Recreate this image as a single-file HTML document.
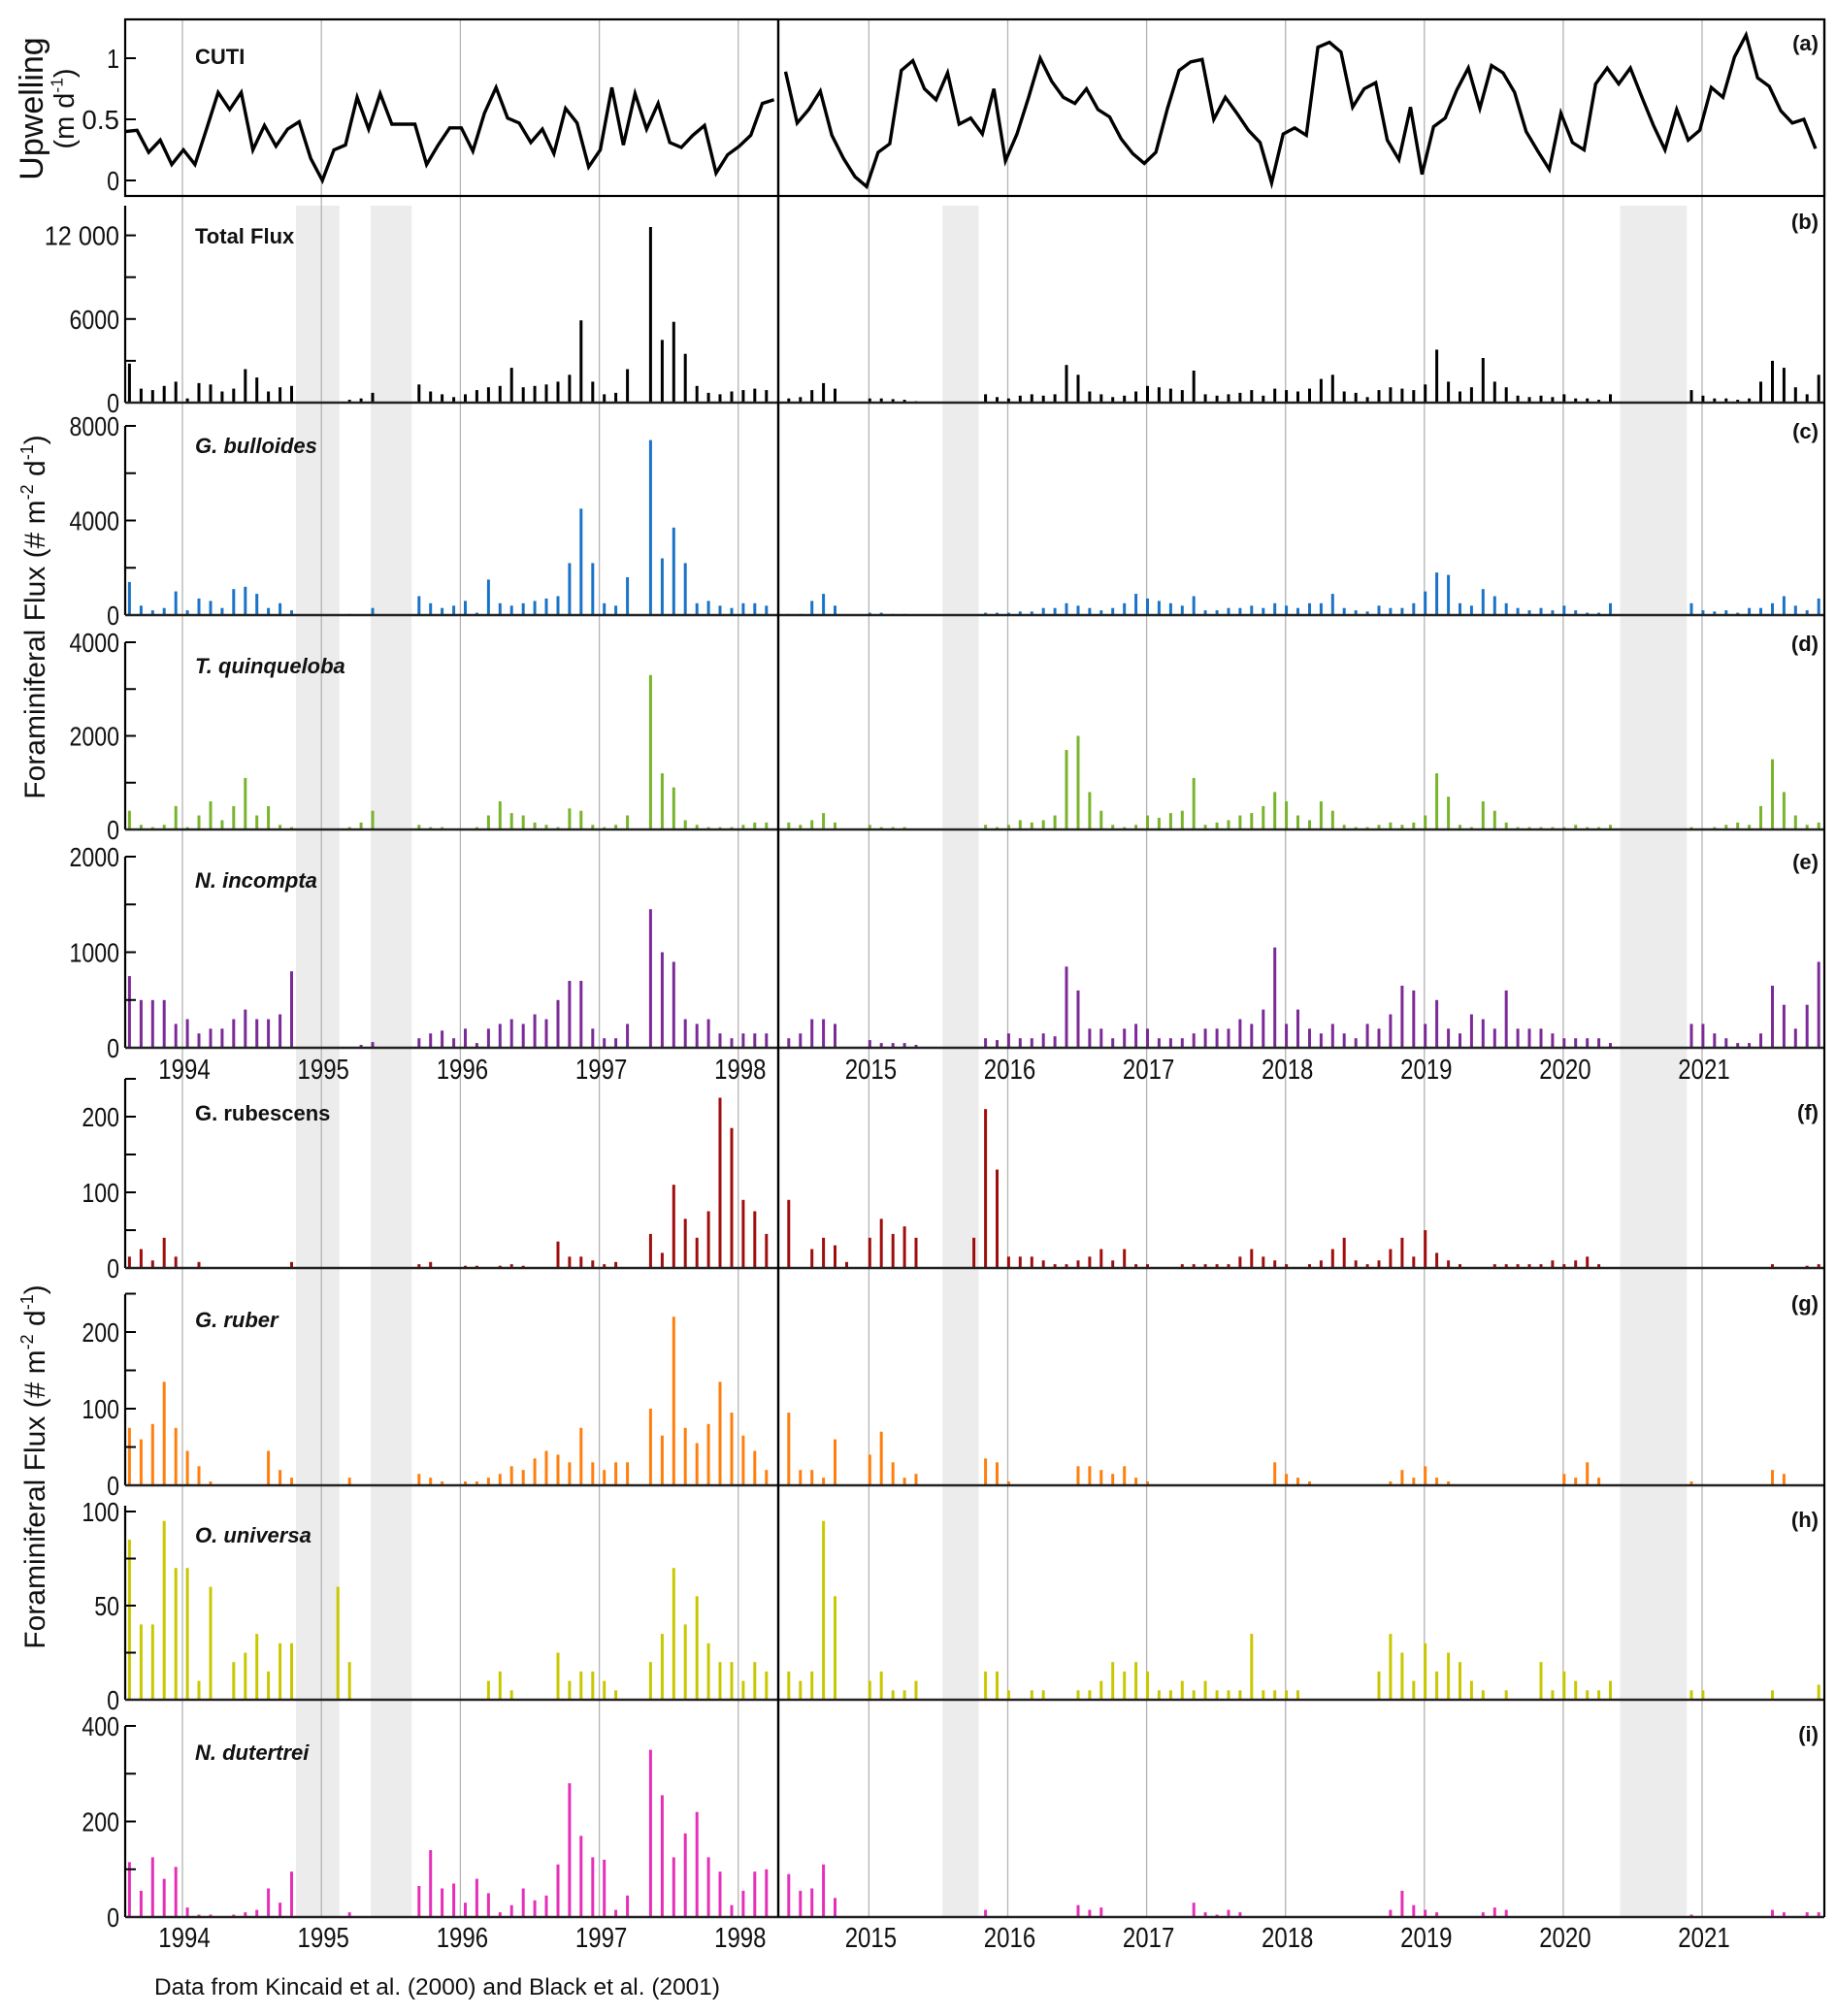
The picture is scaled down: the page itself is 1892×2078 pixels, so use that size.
<!DOCTYPE html>
<html><head><meta charset="utf-8">
<style>
html,body{margin:0;padding:0;background:#fff;}
svg{display:block;}
text{font-family:"Liberation Sans",Arial,sans-serif;}
</style></head>
<body>
<svg id="chart" width="1892" height="2078" viewBox="0 0 1892 2078" xmlns="http://www.w3.org/2000/svg"></svg>
<script>
// ---------- DATA ----------
const leftStart = 1993.619, rightStart = 2014.423, step = 1/12;
const leftYears = [1994,1995,1996,1997,1998];
const rightYears = [2015,2016,2017,2018,2019,2020,2021];
const gaps = [[1994.817,1995.13],[1995.355,1995.65],[2015.53,2015.79],[2020.41,2020.89]];
const cutiLeftStart = 1993.59, cutiRightStart = 2014.40;
const cutiLeft = [0.40,0.41,0.23,0.33,0.13,0.25,0.13,0.42,0.72,0.58,0.72,0.25,0.45,0.28,0.42,0.48,0.18,0.00,0.25,0.29,0.68,0.42,0.71,0.46,0.46,0.46,0.13,0.29,0.43,0.43,0.24,0.55,0.76,0.51,0.47,0.31,0.42,0.22,0.59,0.47,0.11,0.25,0.76,0.29,0.71,0.42,0.63,0.31,0.27,0.37,0.45,0.06,0.21,0.28,0.37,0.63,0.66];
const cutiRight = [0.89,0.47,0.58,0.73,0.37,0.18,0.03,-0.05,0.23,0.30,0.90,0.98,0.75,0.66,0.88,0.46,0.51,0.38,0.75,0.16,0.38,0.68,1.00,0.81,0.68,0.63,0.75,0.58,0.52,0.34,0.22,0.14,0.23,0.59,0.90,0.97,0.99,0.50,0.68,0.55,0.41,0.31,-0.02,0.38,0.43,0.37,1.09,1.13,1.05,0.60,0.75,0.80,0.33,0.17,0.60,0.05,0.44,0.51,0.74,0.92,0.59,0.94,0.88,0.72,0.40,0.24,0.09,0.55,0.31,0.25,0.79,0.92,0.79,0.92,0.68,0.45,0.25,0.58,0.33,0.41,0.76,0.68,1.01,1.19,0.84,0.77,0.57,0.47,0.50,0.26];

const totalLeft = [2800,1000,900,1200,1500,300,1400,1300,800,1000,2400,1800,800,1100,1200,0,0,0,0,200,300,700,0,0,0,1300,800,600,400,600,900,1100,1200,2500,1100,1200,1300,1500,2000,5900,1500,600,700,2400,0,12600,4500,5800,3500,1200,700,600,800,900,1000,900];
const totalRight = [300,400,900,1400,1000,0,0,300,300,250,200,100,0,0,0,0,0,600,400,300,500,600,500,600,2700,2000,800,600,400,500,800,1200,1100,1000,900,2300,600,500,600,700,900,500,1000,900,800,1000,1700,2000,800,700,400,900,1100,1000,900,1300,3800,1500,800,1100,3200,1500,1100,500,400,500,400,600,300,300,200,600,0,0,0,0,0,0,900,500,300,300,200,300,1500,3000,2500,1100,600,2000];
const bullLeft = [1400,400,200,300,1000,200,700,600,300,1100,1200,900,300,500,200,0,0,0,0,50,0,300,0,0,0,800,500,300,400,600,100,1500,500,400,500,600,700,800,2200,4500,2200,500,400,1600,0,7400,2400,3700,2200,500,600,400,300,500,500,400];
const bullRight = [50,50,600,900,400,0,0,100,100,50,50,0,0,0,0,0,0,100,100,100,150,150,300,300,500,400,300,200,300,500,900,700,600,500,400,800,200,200,300,300,400,300,500,400,300,500,500,900,300,200,150,400,300,300,500,1000,1800,1700,500,400,1100,800,500,300,200,300,200,400,200,100,100,500,0,0,0,0,0,0,500,200,150,200,100,300,300,500,800,400,200,700];
const quinLeft = [400,100,50,100,500,50,300,600,200,500,1100,300,500,100,50,0,0,0,0,50,150,400,0,0,0,100,50,50,0,0,50,300,600,350,300,150,100,50,450,400,100,50,100,300,0,3300,1200,900,200,100,50,50,50,100,150,150];
const quinRight = [150,100,200,350,150,0,0,100,50,50,50,0,0,0,0,0,0,100,50,100,200,150,200,300,1700,2000,800,400,100,50,100,300,250,350,400,1100,100,150,200,300,350,500,800,600,300,200,600,400,100,50,50,100,150,100,150,300,1200,700,100,50,600,400,150,50,50,50,50,50,100,50,50,100,0,0,0,0,0,0,50,0,50,100,150,100,500,1500,800,300,100,150];
const incLeft = [750,500,500,500,250,300,150,200,200,300,400,300,300,350,800,0,0,0,0,0,30,60,0,0,0,100,150,180,100,200,50,200,250,300,250,350,300,500,700,700,200,100,100,250,0,1450,1000,900,300,250,300,150,100,150,150,150];
const incRight = [100,150,300,300,250,0,0,80,50,50,50,30,0,0,0,0,0,100,80,150,100,100,150,120,850,600,200,200,100,200,250,200,100,100,100,150,200,200,200,300,250,400,1050,250,400,200,150,250,150,100,250,200,350,650,600,250,500,200,150,350,300,200,600,200,200,200,150,100,100,100,100,50,0,0,0,0,0,0,250,250,150,100,50,50,150,650,450,200,450,900];
const rubeLeft = [15,25,10,40,15,0,8,0,0,0,0,0,0,0,8,0,0,0,0,0,0,0,0,0,0,5,8,0,0,3,3,0,3,5,3,0,0,35,15,15,10,5,8,0,0,45,20,110,65,40,75,225,185,90,75,45];
const rubeRight = [90,0,25,40,30,8,0,40,65,45,55,40,0,0,0,0,40,210,130,15,15,15,10,5,5,10,15,25,10,25,5,5,0,0,5,5,5,5,5,15,25,15,10,5,0,5,10,25,40,10,5,10,25,40,15,50,20,10,5,0,0,5,5,5,5,5,10,5,10,15,5,0,0,0,0,0,0,0,0,0,0,0,0,0,0,5,0,0,3,5];
const ruberLeft = [75,60,80,135,75,45,25,5,0,0,0,0,45,20,10,0,0,0,0,10,0,0,0,0,0,15,10,5,0,5,5,10,15,25,20,35,45,40,30,75,30,20,30,30,0,100,65,220,75,55,80,135,95,65,45,20];
const ruberRight = [95,20,20,10,60,0,0,40,70,30,10,15,0,0,0,0,0,35,30,5,0,0,0,0,0,25,25,20,15,25,10,5,0,0,0,0,0,0,0,0,0,0,30,15,10,5,0,0,0,0,0,0,5,20,10,25,10,5,0,0,0,0,0,0,0,0,0,15,10,30,10,0,0,0,0,0,0,0,5,0,0,0,0,0,0,20,15,0,0,0];
const univLeft = [85,40,40,95,70,70,10,60,0,20,25,35,15,30,30,0,0,0,60,20,0,0,0,0,0,0,0,0,0,0,0,10,15,5,0,0,0,25,10,15,15,10,5,0,0,20,35,70,40,55,30,20,20,10,20,15];
const univRight = [15,10,15,95,55,0,0,10,15,5,5,10,0,0,0,0,0,15,15,5,0,5,5,0,0,5,5,10,20,15,20,15,5,5,10,5,10,5,5,5,35,5,5,5,5,0,0,0,0,0,0,15,35,25,10,30,15,25,20,10,5,0,5,0,0,20,5,15,10,5,5,10,0,0,0,0,0,0,5,5,0,0,0,0,0,5,0,0,0,8];
const dutLeft = [115,55,125,80,105,20,5,5,0,5,10,15,60,30,95,0,0,0,0,10,0,0,0,0,0,65,140,60,70,30,80,50,10,25,60,35,45,110,280,170,125,120,15,45,0,350,255,125,175,220,125,95,25,55,95,100];
const dutRight = [90,55,60,110,40,0,0,0,0,0,0,0,0,0,0,0,0,15,0,0,0,0,0,0,0,25,15,20,0,0,0,0,0,0,0,30,10,5,15,10,0,0,0,0,0,0,0,0,0,0,0,0,15,55,25,15,10,0,0,0,10,20,15,0,0,0,0,0,0,0,0,0,0,0,0,0,0,0,5,0,0,0,0,0,0,15,10,0,10,10];

// ---------- LAYOUT ----------
const NS = "http://www.w3.org/2000/svg";
const svg = document.getElementById('chart');
const XL = 129, XD = 802, XR = 1880, YTOP = 20, YBOT = 1976;
function xOf(yr){ return yr < 2005 ? 188 + (yr-1994)*143.2 : 895.4 + (yr-2015)*143.1; }
function mk(tag, attrs, parent){
  const e = document.createElementNS(NS, tag);
  for (const k in attrs) e.setAttribute(k, attrs[k]);
  (parent||svg).appendChild(e);
  return e;
}
function narrow(el, str, fs){
  el.textContent = str;
  el.setAttribute('textLength', (str.length*fs*0.46).toFixed(1));
  el.setAttribute('lengthAdjust', 'spacingAndGlyphs');
}

const gShade = mk('g', {});


gaps.forEach(g => {
  const r = mk('rect', {x:xOf(g[0]), y:212, width:xOf(g[1])-xOf(g[0]), height:YBOT-212, fill:'#ececec'}, gShade);
  
  
});
const gGrid = mk('g', {});


leftYears.concat(rightYears).forEach(y => {
  const l = mk('line', {x1:xOf(y), x2:xOf(y), y1:YTOP, y2:YBOT, stroke:'#b4b4b4', 'stroke-width':1.3}, gGrid);
  
  
});

const panels = [
  {id:'b', name:'Total Flux', ital:false, color:'#000', L:totalLeft, R:totalRight, y0:415, vref:12000, yref:242.6, top:212, ticks:[0,3000,6000,9000,12000], labels:{0:'0',6000:'6000',12000:'12 000'}, ly:243, lab:228},
  {id:'c', name:'G. bulloides', ital:true, color:'#1a73c6', L:bullLeft, R:bullRight, y0:634, vref:8000, yref:439, top:439, ticks:[0,2000,4000,6000,8000], labels:{0:'0',4000:'4000',8000:'8000'}, ly:459, lab:444},
  {id:'d', name:'T. quinqueloba', ital:true, color:'#78b42c', L:quinLeft, R:quinRight, y0:855, vref:4000, yref:662, top:662, ticks:[0,1000,2000,3000,4000], labels:{0:'0',2000:'2000',4000:'4000'}, ly:686, lab:663},
  {id:'e', name:'N. incompta', ital:true, color:'#7b2a98', L:incLeft, R:incRight, y0:1080, vref:2000, yref:883, top:883, ticks:[0,500,1000,1500,2000], labels:{0:'0',1000:'1000',2000:'2000'}, ly:907, lab:888},
  {id:'f', name:'G. rubescens', ital:false, color:'#a00d0d', L:rubeLeft, R:rubeRight, y0:1307, vref:200, yref:1151, top:1112, ticks:[0,50,100,150,200,250], labels:{0:'0',100:'100',200:'200'}, ly:1147, lab:1146},
  {id:'g', name:'G. ruber', ital:true, color:'#ff7f0e', L:ruberLeft, R:ruberRight, y0:1531, vref:200, yref:1373, top:1334, ticks:[0,50,100,150,200,250], labels:{0:'0',100:'100',200:'200'}, ly:1360, lab:1343},
  {id:'h', name:'O. universa', ital:true, color:'#c9c800', L:univLeft, R:univRight, y0:1752, vref:100, yref:1558, top:1552, ticks:[0,25,50,75,100], labels:{0:'0',50:'50',100:'100'}, ly:1582, lab:1566},
  {id:'i', name:'N. dutertrei', ital:true, color:'#e62fb8', L:dutLeft, R:dutRight, y0:1976, vref:400, yref:1779, top:1779, ticks:[0,100,200,300,400], labels:{0:'0',200:'200',400:'400'}, ly:1806, lab:1787}
];

function yAxisTicks(g, p, scale){
  p.ticks.forEach(t => {
    const y = scale(t);
    const tk = mk('line', {x1:XL, x2:XL+11, y1:y, y2:y, stroke:'#000', 'stroke-width':2}, g);
    
    
    if (p.labels[t] !== undefined){
      const tx = mk('text', {x:XL-6, y:y+10, 'text-anchor':'end', 'font-size':28, fill:'#111'}, g);
      narrow(tx, p.labels[t], 28);
      
      
    }
  });
}

(function(){
  const g = mk('g', {});
  
  
  const ya = v => 186 - v*126;
  const p = {ticks:[0,0.5,1], labels:{0:'0',0.5:'0.5',1:'1'}};
  yAxisTicks(g, p, ya);
  [[cutiLeft,cutiLeftStart],[cutiRight,cutiRightStart]].forEach(([arr,st],k) => {
    const pts = arr.map((v,i) => xOf(st + i*step).toFixed(1) + ',' + ya(v).toFixed(1)).join(' ');
    const pl = mk('polyline', {points:pts, fill:'none', stroke:'#000', 'stroke-width':3.4, 'stroke-linejoin':'miter'}, g);
    
    
  });
  const fr = mk('rect', {x:XL, y:YTOP, width:XR-XL, height:202-YTOP, fill:'none', stroke:'#000', 'stroke-width':2.2}, g);
  
  
  const t = mk('text', {x:201, y:66, 'font-size':22, 'font-weight':'bold', fill:'#111'}, g);
  t.textContent = 'CUTI';
  
  
  const lb = mk('text', {x:1874, y:52, 'text-anchor':'end', 'font-size':22, 'font-weight':'bold', fill:'#111'}, g);
  lb.textContent = '(a)';
  
  
})();

panels.forEach(p => {
  const g = mk('g', {});
  
  
  const sc = v => p.y0 - v*(p.y0 - p.yref)/p.vref;
  [[p.L,leftStart],[p.R,rightStart]].forEach(([arr,st]) => {
    arr.forEach((v,i) => {
      if (v <= 0) return;
      const x = xOf(st + i*step);
      const b = mk('rect', {x:(x-1.5).toFixed(1), y:sc(v).toFixed(1), width:3, height:(p.y0 - sc(v)).toFixed(1), fill:p.color}, g);
      
      
    });
  });
  const sp = mk('line', {x1:XL, x2:XL, y1:p.top, y2:p.y0, stroke:'#000', 'stroke-width':2.2}, g);
  
  
  yAxisTicks(g, p, sc);
  const bl = mk('line', {x1:XL, x2:XR, y1:p.y0, y2:p.y0, stroke:'#222', 'stroke-width':2.6}, g);
  
  
  const t = mk('text', {x:201, y:p.ly+8, 'font-size':22, 'font-weight':'bold', 'font-style':p.ital?'italic':'normal', fill:'#111'}, g);
  t.textContent = p.name;
  
  
  const lb = mk('text', {x:1874, y:p.lab+8, 'text-anchor':'end', 'font-size':22, 'font-weight':'bold', fill:'#111'}, g);
  lb.textContent = '(' + p.id + ')';
  
  
});

const dv = mk('line', {x1:XD, x2:XD, y1:YTOP, y2:YBOT, stroke:'#000', 'stroke-width':2.4});


const rb = mk('line', {x1:XR, x2:XR, y1:YTOP, y2:YBOT, stroke:'#000', 'stroke-width':2.2});



[1112, 2007].forEach((yy,k) => {
  const g = mk('g', {});
  
  
  leftYears.concat(rightYears).forEach(y => {
    const t = mk('text', {x:xOf(y)+2, y:yy, 'text-anchor':'middle', 'font-size':29, fill:'#111'}, g);
    narrow(t, String(y), 29);
    
    
  });
});

function vtitle(x, y, fs, name, parts){
  const t = mk('text', {x:0, y:0, 'font-size':fs, 'text-anchor':'middle', fill:'#111', transform:`translate(${x},${y}) rotate(-90)`});
  parts.forEach(pt => {
    const s = mk('tspan', pt.sup ? {'font-size':fs*0.6, dy:-fs*0.4} : (pt.down ? {dy:fs*0.4} : {}), t);
    s.textContent = pt.t;
  });
  
  
}
vtitle(44, 112, 34, 'y-axis-title-upwelling', [{t:'Upwelling'}]);
vtitle(76, 112, 29, 'y-axis-title-upwelling-units', [{t:'(m d'},{t:'-1',sup:true},{t:')',down:true}]);
vtitle(46, 636, 30, 'y-axis-title-flux-upper', [{t:'Foraminiferal Flux (# m'},{t:'-2',sup:true},{t:' d',down:true},{t:'-1',sup:true},{t:')',down:true}]);
vtitle(46, 1512, 30, 'y-axis-title-flux-lower', [{t:'Foraminiferal Flux (# m'},{t:'-2',sup:true},{t:' d',down:true},{t:'-1',sup:true},{t:')',down:true}]);

const cap = mk('text', {x:159, y:2056, 'font-size':24, fill:'#111'});
narrow(cap, 'Data from Kincaid et al. (2000) and Black et al. (2001)', 24);
cap.setAttribute('textLength', '583');


</script>
</body></html>
